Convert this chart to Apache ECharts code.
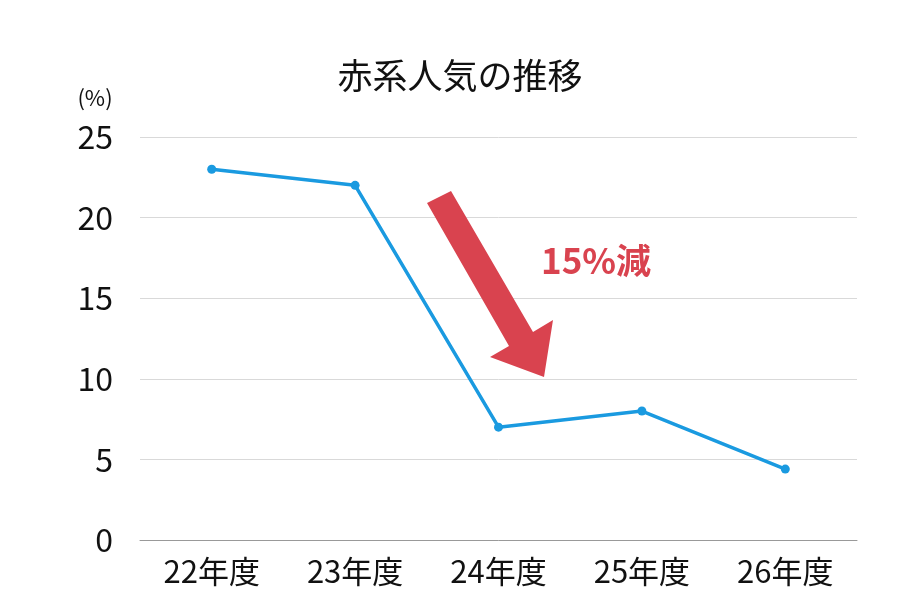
<!DOCTYPE html>
<html>
<head>
<meta charset="utf-8">
<script src="https://cdn.jsdelivr.net/npm/echarts@6/dist/echarts.min.js"></script>
<style>
  html, body { margin: 0; padding: 0; background: #fff; }
  #chart { width: 920px; height: 600px; }
</style>
</head>
<body>
<div id="chart"></div>
<script>
// データ
var categories = ['22年度', '23年度', '24年度', '25年度', '26年度'];
var redShare = [23, 22, 7, 8, 4.4];
var yTicks = [0, 5, 10, 15, 20, 25];

var font = '"Noto Sans CJK JP", "Noto Sans", sans-serif';
var chart = echarts.init(document.getElementById('chart'));

var option = {
    backgroundColor: '#fff',
    title: {
        text: '赤系人気の推移',
        left: 'center',
        top: 53,
        textStyle: { fontFamily: font, fontSize: 35, fontWeight: 'normal', color: '#111' }
    },
    grid: { left: 140, right: 63, top: 137, bottom: 60 },
    xAxis: {
        type: 'category',
        data: categories,
        boundaryGap: true,
        axisLine: { lineStyle: { color: '#999', width: 1 } },
        axisTick: { show: false },
        axisLabel: { fontFamily: font, fontSize: 31, color: '#111', margin: 16 }
    },
    yAxis: {
        type: 'value',
        min: yTicks[0],
        max: yTicks[yTicks.length - 1],
        interval: 5,
        name: '(%)',
        nameLocation: 'end',
        nameGap: 28,
        nameTextStyle: { fontFamily: font, fontSize: 22, color: '#111', align: 'center', padding: [0, 0, 0, -90] },
        axisLine: { show: false },
        axisTick: { show: false },
        axisLabel: { fontFamily: font, fontSize: 32, color: '#111', margin: 27 },
        splitLine: { lineStyle: { color: '#d9d9d9', width: 1 } }
    },
    series: [{
        type: 'line',
        data: redShare,
        symbol: 'circle',
        symbolSize: 9,
        lineStyle: { color: '#1a9ae0', width: 3.5 },
        itemStyle: { color: '#1a9ae0' },
        label: { show: false }
    }],
    graphic: [
        {
            type: 'polygon',
            shape: {
                points: [[427, 203], [451, 191], [533, 332], [553, 320], [544, 377], [490, 357], [509, 346]]
            },
            style: { fill: '#d9434f' },
            z: 10
        },
        {
            type: 'text',
            x: 596,
            y: 261,
            style: {
                text: '15%減',
                fontFamily: font,
                fontSize: 35,
                fontWeight: 'bold',
                fill: '#d9434f',
                align: 'center',
                verticalAlign: 'middle'
            },
            z: 10
        }
    ]
};

chart.setOption(option);
</script>
</body>
</html>
